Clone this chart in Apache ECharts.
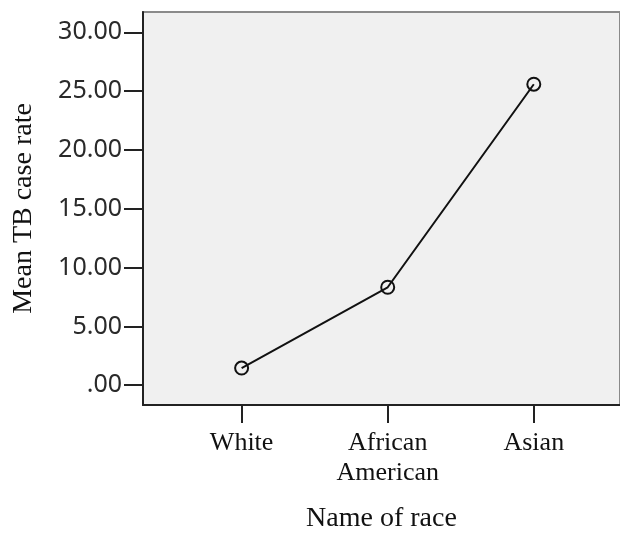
<!DOCTYPE html>
<html>
<head>
<meta charset="utf-8">
<script src="https://cdn.jsdelivr.net/npm/echarts@6/dist/echarts.min.js"></script>
<style>
html,body{margin:0;padding:0;background:#fff;}
#c{width:620px;height:538px;}
</style>
</head>
<body>
<div id="c"></div>
<script>
const categories = ['White', 'African\nAmerican', 'Asian'];
const meanRates = [1.46, 8.33, 25.59];
const yTicks = [0, 5, 10, 15, 20, 25, 30];
const xTicks = [0, 1, 2];

const serif = 'Liberation Serif, Times New Roman, serif';
const sans = 'Noto Sans, DejaVu Sans, sans-serif';
const chart = echarts.init(document.getElementById('c'), null, {renderer: 'canvas'});
chart.setOption({
  animation: false,
  grid: {
    left: 143, top: 12, right: 0, bottom: 129,
    show: true, backgroundColor: '#f0f0f0', borderColor: '#8a8a8a', borderWidth: 2
  },
  xAxis: {
    type: 'value', min: -0.675, max: 2.59,
    name: 'Name of race', nameLocation: 'middle', nameGap: 100,
    nameTextStyle: {fontFamily: serif, fontSize: 28, color: '#111'},
    axisLine: {show: true, onZero: false, lineStyle: {color: '#222', width: 2}},
    axisTick: {show: true, customValues: xTicks, length: 18, lineStyle: {color: '#222', width: 2}},
    axisLabel: {customValues: xTicks, margin: 23, fontFamily: serif, fontSize: 26, color: '#111', lineHeight: 30,
      formatter: v => categories[Math.round(v)] || ''},
    splitLine: {show: false}
  },
  yAxis: {
    type: 'value', min: -1.68, max: 31.73,
    name: 'Mean TB case rate', nameLocation: 'middle', nameGap: 105,
    nameTextStyle: {fontFamily: serif, fontSize: 28, color: '#111'},
    axisLine: {show: true, onZero: false, lineStyle: {color: '#222', width: 2}},
    axisTick: {show: true, customValues: yTicks, length: 19, lineStyle: {color: '#222', width: 2}},
    axisLabel: {customValues: yTicks, margin: 21, fontFamily: sans, fontSize: 25, color: '#2a2a2a',
      formatter: v => (v === 0 ? '.00' : v.toFixed(2))},
    splitLine: {show: false}
  },
  series: [{
    type: 'line',
    data: meanRates.map((v, i) => [xTicks[i], v]),
    symbol: 'circle', symbolSize: 13,
    itemStyle: {color: 'rgba(0,0,0,0)', borderColor: '#111', borderWidth: 2},
    lineStyle: {color: '#111', width: 2}
  }]
});
</script>
</body>
</html>
